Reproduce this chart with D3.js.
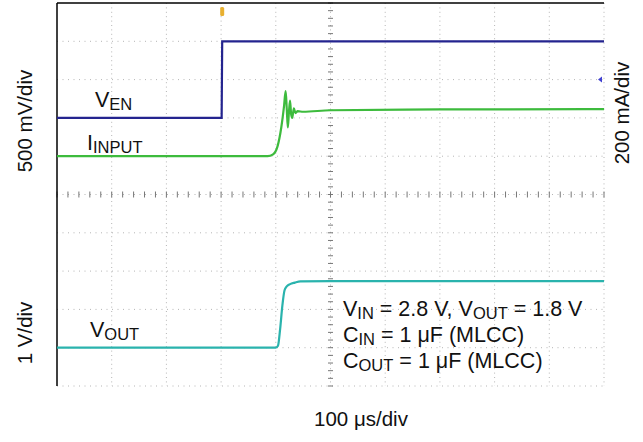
<!DOCTYPE html>
<html>
<head>
<meta charset="utf-8">
<script src="https://cdn.jsdelivr.net/npm/d3@7"></script>
<style>
  body { margin: 0; background: #fff; }
  text { font-family: "Liberation Sans", Arial, Helvetica, sans-serif; fill: #111; }
</style>
</head>
<body>
<div id="chart"></div>
<script>
// scope capture: 100 us/div, 10 x 10 divisions
var gridDivsX = 10;
var gridDivsY = 10;
var usPerDiv = 100;

// V_EN (V), 500 mV/div
var venTime = [0, 301, 302, 1000];
var venVolts = [0, 0, 1.0, 1.0];

// I_INPUT (mA), 200 mA/div
var iinTime = [0, 385, 395, 403, 410, 415, 418, 420, 422, 424, 426, 428, 430, 433, 436, 440, 450, 500, 700, 1000];
var iinMilliamps = [0, 0, 10, 50, 150, 260, 340, 250, 150, 230, 290, 220, 200, 250, 225, 235, 232, 240, 244, 246];

// V_OUT (V), 1 V/div
var voutTime = [0, 400, 404, 408, 412, 416, 420, 426, 435, 445, 500, 1000];
var voutVolts = [0, 0, 0.05, 0.5, 1.1, 1.5, 1.6, 1.66, 1.7, 1.73, 1.74, 1.74];

// channel settings: units per div and ground position (div from bottom)
var channels = [
    { name: "ven",  perDiv: 0.5, ground: 7, color: "#24248f", time: venTime,  values: venVolts },
    { name: "iin",  perDiv: 200, ground: 6, color: "#3dbb3d", time: iinTime,  values: iinMilliamps },
    { name: "vout", perDiv: 1,   ground: 1, color: "#2ab3ad", time: voutTime, values: voutVolts }
];

ScopePlot = function(_parentElement){
    this.parentElement = _parentElement;
    this.initVis();
};

ScopePlot.prototype.initVis = function(){
    var vis = this;
    vis.margin = { left: 57, right: 39, top: 3, bottom: 56 };
    vis.width = 643 - vis.margin.left - vis.margin.right;
    vis.height = 442 - vis.margin.top - vis.margin.bottom;

    vis.svg = d3.select(vis.parentElement)
        .append("svg")
        .attr("width", 643)
        .attr("height", 442);

    vis.g = vis.svg.append("g")
        .attr("transform", "translate(" + vis.margin.left + "," + vis.margin.top + ")");

    vis.x = d3.scaleLinear().domain([0, gridDivsX * usPerDiv]).range([0, vis.width]);
    vis.y = d3.scaleLinear().domain([0, gridDivsY]).range([vis.height, 0]);

    vis.drawGrid();
    vis.drawTraces();
    vis.drawLabels();
};

ScopePlot.prototype.drawGrid = function(){
    var vis = this;
    var grid = vis.g.append("g").attr("class", "grid");

    // dotted division lines
    grid.selectAll(".vline")
        .data(d3.range(1, gridDivsX + 1))
        .enter().append("line")
        .attr("x1", function(d){ return vis.x(d * usPerDiv); })
        .attr("x2", function(d){ return vis.x(d * usPerDiv); })
        .attr("y1", 0).attr("y2", vis.height)
        .attr("stroke", "#b5b5b5").attr("stroke-width", 1)
        .attr("stroke-dasharray", "1,3.4");

    grid.selectAll(".hline")
        .data(d3.range(0, gridDivsY))
        .enter().append("line")
        .attr("x1", 0).attr("x2", vis.width)
        .attr("y1", function(d){ return vis.y(d); })
        .attr("y2", function(d){ return vis.y(d); })
        .attr("stroke", "#b5b5b5").attr("stroke-width", 1)
        .attr("stroke-dasharray", "1,4.5");

    // minor ticks on the centre axes
    var cx = vis.x(gridDivsX / 2 * usPerDiv);
    var cy = vis.y(gridDivsY / 2);
    grid.selectAll(".ytick")
        .data(d3.range(0, gridDivsY * 5 + 1))
        .enter().append("line")
        .attr("x1", cx - 2.5).attr("x2", cx + 2.5)
        .attr("y1", function(d){ return vis.y(d / 5); })
        .attr("y2", function(d){ return vis.y(d / 5); })
        .attr("stroke", "#777").attr("stroke-width", 1);
    grid.selectAll(".xtick")
        .data(d3.range(0, gridDivsX * 5 + 1))
        .enter().append("line")
        .attr("x1", function(d){ return vis.x(d / 5 * usPerDiv); })
        .attr("x2", function(d){ return vis.x(d / 5 * usPerDiv); })
        .attr("y1", cy - 3).attr("y2", cy + 3)
        .attr("stroke", "#777").attr("stroke-width", 1);

    // frame: only top and left edges are solid
    vis.g.append("line")
        .attr("x1", 0).attr("x2", vis.width).attr("y1", 0).attr("y2", 0)
        .attr("stroke", "#000").attr("stroke-width", 1.5);
    vis.g.append("line")
        .attr("x1", 0).attr("x2", 0).attr("y1", 0).attr("y2", vis.height)
        .attr("stroke", "#000").attr("stroke-width", 1.5);
};

ScopePlot.prototype.drawTraces = function(){
    var vis = this;

    channels.forEach(function(ch){
        var pts = ch.time.map(function(t, i){ return [t, ch.values[i]]; });
        var line = d3.line()
            .x(function(d){ return vis.x(d[0]); })
            .y(function(d){ return vis.y(ch.ground + d[1] / ch.perDiv); })
            .curve(ch.name == "ven" ? d3.curveLinear : d3.curveMonotoneX);
        vis.g.append("path")
            .datum(pts)
            .attr("class", "trace " + ch.name)
            .attr("d", line)
            .attr("fill", "none")
            .attr("stroke", ch.color)
            .attr("stroke-width", 2.2);
    });

    // trigger position marker (top) and trigger level marker (right)
    var tx = vis.x(venTime[2]);
    vis.g.append("rect")
        .attr("x", tx - 2).attr("y", 4).attr("width", 4).attr("height", 9)
        .attr("rx", 1.5).attr("fill", "#e8b030");
    var ly = vis.y(channels[0].ground + 0.5 / channels[0].perDiv);
    vis.g.append("path")
        .attr("d", "M" + (vis.width - 6) + "," + ly + "l4,-3l0,6z")
        .attr("fill", "#4040d0");
};

ScopePlot.prototype.drawLabels = function(){
    var vis = this;

    function subLabel(x, y, main, sub){
        var t = vis.svg.append("text").attr("x", x).attr("y", y).style("font-size", "21.5px");
        t.append("tspan").text(main);
        t.append("tspan").attr("dy", 3).style("font-size", "16.5px").text(sub);
        return t;
    }

    subLabel(95, 107, "V", "EN");
    subLabel(87, 150, "I", "INPUT");
    subLabel(90, 337, "V", "OUT");

    // test conditions
    var t1 = vis.svg.append("text").attr("x", 343).attr("y", 316).style("font-size", "21.5px");
    t1.append("tspan").text("V");
    t1.append("tspan").attr("dy", 3).style("font-size", "16.5px").text("IN");
    t1.append("tspan").attr("dy", -3).text(" = 2.8 V, V");
    t1.append("tspan").attr("dy", 3).style("font-size", "16.5px").text("OUT");
    t1.append("tspan").attr("dy", -3).text(" = 1.8 V");

    var t2 = vis.svg.append("text").attr("x", 343).attr("y", 342).style("font-size", "21.5px");
    t2.append("tspan").text("C");
    t2.append("tspan").attr("dy", 3).style("font-size", "16.5px").text("IN");
    t2.append("tspan").attr("dy", -3).text(" = 1 \u03bcF (MLCC)");

    var t3 = vis.svg.append("text").attr("x", 343).attr("y", 368).style("font-size", "21.5px");
    t3.append("tspan").text("C");
    t3.append("tspan").attr("dy", 3).style("font-size", "16.5px").text("OUT");
    t3.append("tspan").attr("dy", -3).text(" = 1 \u03bcF (MLCC)");

    // axis scale labels
    vis.svg.append("text")
        .attr("transform", "translate(32,121) rotate(-90)")
        .attr("text-anchor", "middle").style("font-size", "20.5px")
        .text("500 mV/div");
    vis.svg.append("text")
        .attr("transform", "translate(32,333) rotate(-90)")
        .attr("text-anchor", "middle").style("font-size", "20.5px")
        .text("1 V/div");
    vis.svg.append("text")
        .attr("transform", "translate(629,113) rotate(-90)")
        .attr("text-anchor", "middle").style("font-size", "20.5px")
        .text("200 mA/div");
    vis.svg.append("text")
        .attr("x", 361).attr("y", 426)
        .attr("text-anchor", "middle").style("font-size", "20.5px")
        .text("100 \u03bcs/div");
};

var plot = new ScopePlot("#chart");
</script>
</body>
</html>
